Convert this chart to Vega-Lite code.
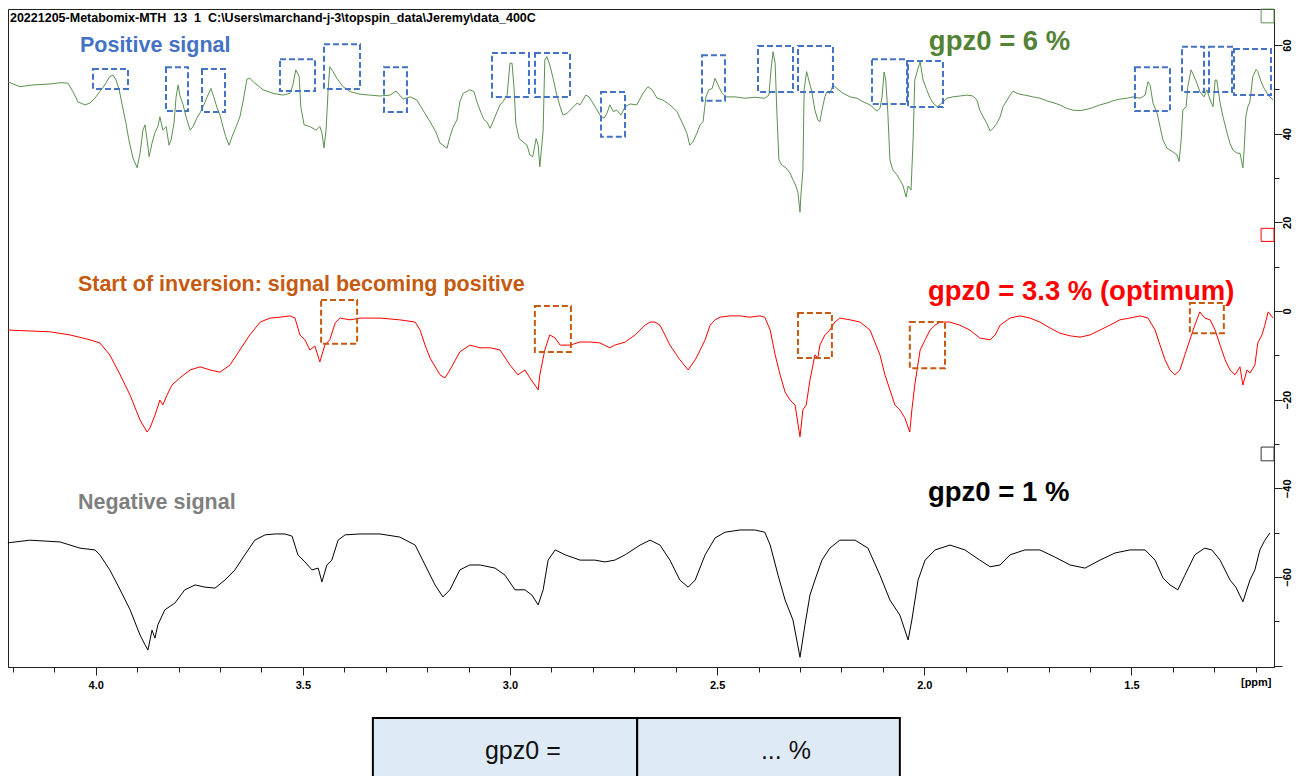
{
"$schema": "https://vega.github.io/schema/vega-lite/v6.json",
"width": 1266, "height": 658,
"autosize": {"type": "none"},
"padding": {"left": 8, "top": 9, "right": 34, "bottom": 109},
"background": "white",
"config": {"view": {"stroke": "#222", "strokeWidth": 1}, "axis": {"grid": false, "domainColor": "#222", "tickColor": "#222", "labelFont": "Liberation Sans", "labelFontWeight": "bold", "labelFontSize": 11, "labelColor": "#000", "title": null, "labelOverlap": false, "labelFlush": false, "labelBound": false}},
"resolve": {"scale": {"fill": "independent", "stroke": "independent"}},
"datasets": {
"spectra": [
{"trace":"g6","ppm":4.212,"rel":51.7},{"trace":"g6","ppm":4.183,"rel":50.6},{"trace":"g6","ppm":4.151,"rel":51.0},{"trace":"g6","ppm":4.110,"rel":51.2},{"trace":"g6","ppm":4.086,"rel":51.5},{"trace":"g6","ppm":4.067,"rel":51.4},{"trace":"g6","ppm":4.055,"rel":49.5},{"trace":"g6","ppm":4.043,"rel":47.2},{"trace":"g6","ppm":4.026,"rel":46.5},{"trace":"g6","ppm":4.014,"rel":46.9},{"trace":"g6","ppm":4.002,"rel":48.0},{"trace":"g6","ppm":3.990,"rel":49.5},{"trace":"g6","ppm":3.978,"rel":51.0},{"trace":"g6","ppm":3.966,"rel":52.9},{"trace":"g6","ppm":3.958,"rel":53.2},{"trace":"g6","ppm":3.951,"rel":52.1},{"trace":"g6","ppm":3.944,"rel":50.2},{"trace":"g6","ppm":3.937,"rel":46.9},{"trace":"g6","ppm":3.927,"rel":42.4},{"trace":"g6","ppm":3.920,"rel":38.6},{"trace":"g6","ppm":3.910,"rel":34.5},{"trace":"g6","ppm":3.900,"rel":32.3},{"trace":"g6","ppm":3.893,"rel":35.6},{"trace":"g6","ppm":3.886,"rel":40.8},{"trace":"g6","ppm":3.881,"rel":42.0},{"trace":"g6","ppm":3.876,"rel":38.6},{"trace":"g6","ppm":3.871,"rel":34.8},{"trace":"g6","ppm":3.864,"rel":37.9},{"trace":"g6","ppm":3.857,"rel":40.2},{"trace":"g6","ppm":3.850,"rel":41.6},{"trace":"g6","ppm":3.845,"rel":43.8},{"trace":"g6","ppm":3.838,"rel":40.8},{"trace":"g6","ppm":3.830,"rel":41.6},{"trace":"g6","ppm":3.823,"rel":37.4},{"trace":"g6","ppm":3.818,"rel":38.6},{"trace":"g6","ppm":3.811,"rel":42.4},{"trace":"g6","ppm":3.806,"rel":48.3},{"trace":"g6","ppm":3.801,"rel":51.0},{"trace":"g6","ppm":3.797,"rel":48.7},{"trace":"g6","ppm":3.789,"rel":46.5},{"trace":"g6","ppm":3.782,"rel":43.8},{"trace":"g6","ppm":3.772,"rel":40.8},{"trace":"g6","ppm":3.765,"rel":41.6},{"trace":"g6","ppm":3.756,"rel":43.5},{"trace":"g6","ppm":3.748,"rel":44.7},{"trace":"g6","ppm":3.739,"rel":46.5},{"trace":"g6","ppm":3.731,"rel":48.3},{"trace":"g6","ppm":3.722,"rel":50.2},{"trace":"g6","ppm":3.715,"rel":48.3},{"trace":"g6","ppm":3.707,"rel":45.8},{"trace":"g6","ppm":3.700,"rel":44.2},{"trace":"g6","ppm":3.693,"rel":41.6},{"trace":"g6","ppm":3.686,"rel":39.3},{"trace":"g6","ppm":3.678,"rel":37.4},{"trace":"g6","ppm":3.671,"rel":39.3},{"trace":"g6","ppm":3.661,"rel":41.6},{"trace":"g6","ppm":3.652,"rel":43.8},{"trace":"g6","ppm":3.645,"rel":46.9},{"trace":"g6","ppm":3.635,"rel":52.3},{"trace":"g6","ppm":3.628,"rel":52.5},{"trace":"g6","ppm":3.616,"rel":51.4},{"trace":"g6","ppm":3.596,"rel":49.9},{"trace":"g6","ppm":3.572,"rel":49.1},{"trace":"g6","ppm":3.548,"rel":48.7},{"trace":"g6","ppm":3.531,"rel":49.1},{"trace":"g6","ppm":3.524,"rel":51.0},{"trace":"g6","ppm":3.517,"rel":54.4},{"trace":"g6","ppm":3.509,"rel":52.9},{"trace":"g6","ppm":3.505,"rel":46.1},{"trace":"g6","ppm":3.497,"rel":42.0},{"trace":"g6","ppm":3.483,"rel":41.6},{"trace":"g6","ppm":3.468,"rel":40.8},{"trace":"g6","ppm":3.459,"rel":41.6},{"trace":"g6","ppm":3.454,"rel":40.2},{"trace":"g6","ppm":3.449,"rel":36.8},{"trace":"g6","ppm":3.444,"rel":40.8},{"trace":"g6","ppm":3.439,"rel":49.9},{"trace":"g6","ppm":3.435,"rel":55.1},{"trace":"g6","ppm":3.427,"rel":54.0},{"trace":"g6","ppm":3.418,"rel":52.5},{"trace":"g6","ppm":3.403,"rel":50.6},{"trace":"g6","ppm":3.386,"rel":49.5},{"trace":"g6","ppm":3.362,"rel":48.9},{"trace":"g6","ppm":3.338,"rel":48.7},{"trace":"g6","ppm":3.314,"rel":48.5},{"trace":"g6","ppm":3.290,"rel":48.7},{"trace":"g6","ppm":3.275,"rel":49.6},{"trace":"g6","ppm":3.258,"rel":47.8},{"trace":"g6","ppm":3.241,"rel":48.3},{"trace":"g6","ppm":3.225,"rel":47.6},{"trace":"g6","ppm":3.210,"rel":45.3},{"trace":"g6","ppm":3.193,"rel":42.7},{"trace":"g6","ppm":3.179,"rel":40.4},{"trace":"g6","ppm":3.169,"rel":37.9},{"trace":"g6","ppm":3.162,"rel":37.4},{"trace":"g6","ppm":3.152,"rel":36.7},{"trace":"g6","ppm":3.145,"rel":39.3},{"trace":"g6","ppm":3.138,"rel":41.3},{"trace":"g6","ppm":3.128,"rel":43.1},{"trace":"g6","ppm":3.121,"rel":47.2},{"trace":"g6","ppm":3.113,"rel":49.1},{"trace":"g6","ppm":3.104,"rel":49.5},{"trace":"g6","ppm":3.097,"rel":49.9},{"trace":"g6","ppm":3.087,"rel":49.5},{"trace":"g6","ppm":3.080,"rel":47.2},{"trace":"g6","ppm":3.070,"rel":44.7},{"trace":"g6","ppm":3.063,"rel":43.2},{"trace":"g6","ppm":3.056,"rel":42.7},{"trace":"g6","ppm":3.048,"rel":41.2},{"trace":"g6","ppm":3.041,"rel":42.7},{"trace":"g6","ppm":3.031,"rel":45.0},{"trace":"g6","ppm":3.024,"rel":46.5},{"trace":"g6","ppm":3.017,"rel":47.2},{"trace":"g6","ppm":3.007,"rel":48.7},{"trace":"g6","ppm":3.000,"rel":55.9},{"trace":"g6","ppm":2.995,"rel":55.9},{"trace":"g6","ppm":2.990,"rel":49.9},{"trace":"g6","ppm":2.986,"rel":42.4},{"trace":"g6","ppm":2.978,"rel":38.9},{"trace":"g6","ppm":2.969,"rel":38.2},{"trace":"g6","ppm":2.959,"rel":37.4},{"trace":"g6","ppm":2.952,"rel":35.2},{"trace":"g6","ppm":2.945,"rel":34.8},{"trace":"g6","ppm":2.937,"rel":38.9},{"trace":"g6","ppm":2.932,"rel":37.4},{"trace":"g6","ppm":2.928,"rel":32.5},{"trace":"g6","ppm":2.920,"rel":40.8},{"trace":"g6","ppm":2.916,"rel":56.6},{"trace":"g6","ppm":2.911,"rel":57.4},{"trace":"g6","ppm":2.904,"rel":55.5},{"trace":"g6","ppm":2.896,"rel":52.5},{"trace":"g6","ppm":2.887,"rel":48.7},{"trace":"g6","ppm":2.879,"rel":46.1},{"trace":"g6","ppm":2.872,"rel":44.2},{"trace":"g6","ppm":2.862,"rel":44.6},{"trace":"g6","ppm":2.855,"rel":45.3},{"trace":"g6","ppm":2.846,"rel":46.1},{"trace":"g6","ppm":2.838,"rel":46.9},{"trace":"g6","ppm":2.831,"rel":46.5},{"trace":"g6","ppm":2.824,"rel":47.6},{"trace":"g6","ppm":2.817,"rel":48.7},{"trace":"g6","ppm":2.809,"rel":48.3},{"trace":"g6","ppm":2.802,"rel":47.2},{"trace":"g6","ppm":2.792,"rel":45.7},{"trace":"g6","ppm":2.783,"rel":44.2},{"trace":"g6","ppm":2.773,"rel":43.5},{"trace":"g6","ppm":2.766,"rel":44.6},{"trace":"g6","ppm":2.759,"rel":46.5},{"trace":"g6","ppm":2.751,"rel":45.0},{"trace":"g6","ppm":2.742,"rel":45.3},{"trace":"g6","ppm":2.732,"rel":44.2},{"trace":"g6","ppm":2.722,"rel":46.1},{"trace":"g6","ppm":2.710,"rel":46.7},{"trace":"g6","ppm":2.694,"rel":46.5},{"trace":"g6","ppm":2.679,"rel":49.1},{"trace":"g6","ppm":2.667,"rel":50.6},{"trace":"g6","ppm":2.657,"rel":49.9},{"trace":"g6","ppm":2.645,"rel":48.0},{"trace":"g6","ppm":2.631,"rel":47.6},{"trace":"g6","ppm":2.614,"rel":46.5},{"trace":"g6","ppm":2.597,"rel":45.0},{"trace":"g6","ppm":2.582,"rel":42.0},{"trace":"g6","ppm":2.573,"rel":40.1},{"trace":"g6","ppm":2.566,"rel":37.4},{"trace":"g6","ppm":2.558,"rel":38.2},{"trace":"g6","ppm":2.549,"rel":40.1},{"trace":"g6","ppm":2.541,"rel":42.0},{"trace":"g6","ppm":2.534,"rel":42.7},{"trace":"g6","ppm":2.527,"rel":48.3},{"trace":"g6","ppm":2.520,"rel":49.9},{"trace":"g6","ppm":2.512,"rel":50.2},{"trace":"g6","ppm":2.505,"rel":52.5},{"trace":"g6","ppm":2.498,"rel":51.0},{"trace":"g6","ppm":2.488,"rel":49.1},{"trace":"g6","ppm":2.479,"rel":48.3},{"trace":"g6","ppm":2.457,"rel":48.3},{"trace":"g6","ppm":2.433,"rel":48.0},{"trace":"g6","ppm":2.409,"rel":48.2},{"trace":"g6","ppm":2.385,"rel":48.0},{"trace":"g6","ppm":2.375,"rel":48.7},{"trace":"g6","ppm":2.370,"rel":54.4},{"trace":"g6","ppm":2.365,"rel":58.5},{"trace":"g6","ppm":2.360,"rel":55.9},{"trace":"g6","ppm":2.356,"rel":45.3},{"trace":"g6","ppm":2.351,"rel":34.1},{"trace":"g6","ppm":2.344,"rel":32.9},{"trace":"g6","ppm":2.334,"rel":32.3},{"trace":"g6","ppm":2.324,"rel":31.1},{"trace":"g6","ppm":2.317,"rel":29.6},{"trace":"g6","ppm":2.310,"rel":28.2},{"trace":"g6","ppm":2.305,"rel":26.8},{"trace":"g6","ppm":2.300,"rel":22.3},{"trace":"g6","ppm":2.298,"rel":25.9},{"trace":"g6","ppm":2.293,"rel":31.8},{"trace":"g6","ppm":2.290,"rel":49.9},{"trace":"g6","ppm":2.284,"rel":54.0},{"trace":"g6","ppm":2.281,"rel":52.9},{"trace":"g6","ppm":2.271,"rel":49.2},{"trace":"g6","ppm":2.264,"rel":45.3},{"trace":"g6","ppm":2.257,"rel":43.1},{"trace":"g6","ppm":2.252,"rel":42.7},{"trace":"g6","ppm":2.247,"rel":45.3},{"trace":"g6","ppm":2.240,"rel":48.3},{"trace":"g6","ppm":2.235,"rel":49.5},{"trace":"g6","ppm":2.228,"rel":49.1},{"trace":"g6","ppm":2.220,"rel":51.0},{"trace":"g6","ppm":2.211,"rel":50.2},{"trace":"g6","ppm":2.196,"rel":49.1},{"trace":"g6","ppm":2.179,"rel":48.3},{"trace":"g6","ppm":2.163,"rel":48.0},{"trace":"g6","ppm":2.148,"rel":47.2},{"trace":"g6","ppm":2.131,"rel":46.5},{"trace":"g6","ppm":2.114,"rel":45.1},{"trace":"g6","ppm":2.107,"rel":45.7},{"trace":"g6","ppm":2.102,"rel":48.3},{"trace":"g6","ppm":2.097,"rel":53.9},{"trace":"g6","ppm":2.093,"rel":52.1},{"trace":"g6","ppm":2.088,"rel":44.7},{"trace":"g6","ppm":2.083,"rel":34.1},{"trace":"g6","ppm":2.076,"rel":31.8},{"trace":"g6","ppm":2.066,"rel":30.7},{"trace":"g6","ppm":2.059,"rel":29.6},{"trace":"g6","ppm":2.051,"rel":28.2},{"trace":"g6","ppm":2.044,"rel":25.7},{"trace":"g6","ppm":2.039,"rel":28.2},{"trace":"g6","ppm":2.032,"rel":27.3},{"trace":"g6","ppm":2.027,"rel":38.6},{"trace":"g6","ppm":2.023,"rel":52.1},{"trace":"g6","ppm":2.015,"rel":54.8},{"trace":"g6","ppm":2.010,"rel":56.2},{"trace":"g6","ppm":2.003,"rel":52.1},{"trace":"g6","ppm":1.994,"rel":49.9},{"trace":"g6","ppm":1.986,"rel":48.0},{"trace":"g6","ppm":1.979,"rel":46.9},{"trace":"g6","ppm":1.969,"rel":46.1},{"trace":"g6","ppm":1.962,"rel":46.5},{"trace":"g6","ppm":1.955,"rel":47.2},{"trace":"g6","ppm":1.945,"rel":48.0},{"trace":"g6","ppm":1.931,"rel":48.3},{"trace":"g6","ppm":1.914,"rel":48.5},{"trace":"g6","ppm":1.897,"rel":48.7},{"trace":"g6","ppm":1.883,"rel":48.5},{"trace":"g6","ppm":1.873,"rel":47.6},{"trace":"g6","ppm":1.866,"rel":45.3},{"trace":"g6","ppm":1.858,"rel":43.8},{"trace":"g6","ppm":1.849,"rel":42.3},{"trace":"g6","ppm":1.841,"rel":40.6},{"trace":"g6","ppm":1.834,"rel":41.2},{"trace":"g6","ppm":1.825,"rel":42.3},{"trace":"g6","ppm":1.817,"rel":43.8},{"trace":"g6","ppm":1.810,"rel":46.1},{"trace":"g6","ppm":1.800,"rel":47.6},{"trace":"g6","ppm":1.793,"rel":48.7},{"trace":"g6","ppm":1.786,"rel":49.6},{"trace":"g6","ppm":1.776,"rel":49.1},{"trace":"g6","ppm":1.769,"rel":48.9},{"trace":"g6","ppm":1.752,"rel":48.6},{"trace":"g6","ppm":1.738,"rel":48.3},{"trace":"g6","ppm":1.721,"rel":48.0},{"trace":"g6","ppm":1.704,"rel":47.4},{"trace":"g6","ppm":1.689,"rel":47.0},{"trace":"g6","ppm":1.673,"rel":46.5},{"trace":"g6","ppm":1.656,"rel":45.7},{"trace":"g6","ppm":1.641,"rel":45.3},{"trace":"g6","ppm":1.624,"rel":45.2},{"trace":"g6","ppm":1.607,"rel":45.5},{"trace":"g6","ppm":1.593,"rel":45.9},{"trace":"g6","ppm":1.576,"rel":46.5},{"trace":"g6","ppm":1.559,"rel":46.9},{"trace":"g6","ppm":1.545,"rel":47.4},{"trace":"g6","ppm":1.528,"rel":47.8},{"trace":"g6","ppm":1.511,"rel":48.0},{"trace":"g6","ppm":1.496,"rel":48.3},{"trace":"g6","ppm":1.479,"rel":48.0},{"trace":"g6","ppm":1.467,"rel":48.7},{"trace":"g6","ppm":1.460,"rel":51.7},{"trace":"g6","ppm":1.455,"rel":51.0},{"trace":"g6","ppm":1.448,"rel":46.9},{"trace":"g6","ppm":1.438,"rel":44.6},{"trace":"g6","ppm":1.431,"rel":41.6},{"trace":"g6","ppm":1.424,"rel":38.6},{"trace":"g6","ppm":1.414,"rel":36.7},{"trace":"g6","ppm":1.407,"rel":36.3},{"trace":"g6","ppm":1.400,"rel":35.9},{"trace":"g6","ppm":1.390,"rel":35.2},{"trace":"g6","ppm":1.385,"rel":33.7},{"trace":"g6","ppm":1.380,"rel":38.6},{"trace":"g6","ppm":1.376,"rel":45.3},{"trace":"g6","ppm":1.368,"rel":46.1},{"trace":"g6","ppm":1.364,"rel":50.6},{"trace":"g6","ppm":1.356,"rel":54.4},{"trace":"g6","ppm":1.352,"rel":53.6},{"trace":"g6","ppm":1.342,"rel":51.4},{"trace":"g6","ppm":1.335,"rel":49.5},{"trace":"g6","ppm":1.325,"rel":48.3},{"trace":"g6","ppm":1.318,"rel":49.9},{"trace":"g6","ppm":1.310,"rel":47.6},{"trace":"g6","ppm":1.303,"rel":46.1},{"trace":"g6","ppm":1.298,"rel":52.1},{"trace":"g6","ppm":1.294,"rel":52.1},{"trace":"g6","ppm":1.286,"rel":46.9},{"trace":"g6","ppm":1.279,"rel":43.8},{"trace":"g6","ppm":1.269,"rel":40.1},{"trace":"g6","ppm":1.262,"rel":37.8},{"trace":"g6","ppm":1.255,"rel":36.3},{"trace":"g6","ppm":1.245,"rel":35.6},{"trace":"g6","ppm":1.238,"rel":35.6},{"trace":"g6","ppm":1.231,"rel":32.3},{"trace":"g6","ppm":1.228,"rel":36.3},{"trace":"g6","ppm":1.224,"rel":43.8},{"trace":"g6","ppm":1.219,"rel":46.1},{"trace":"g6","ppm":1.214,"rel":47.2},{"trace":"g6","ppm":1.207,"rel":52.9},{"trace":"g6","ppm":1.199,"rel":54.5},{"trace":"g6","ppm":1.195,"rel":54.0},{"trace":"g6","ppm":1.187,"rel":51.7},{"trace":"g6","ppm":1.178,"rel":49.9},{"trace":"g6","ppm":1.170,"rel":48.7},{"trace":"g6","ppm":1.158,"rel":47.6},
{"trace":"g33","ppm":4.212,"rel":-4.3},{"trace":"g33","ppm":4.110,"rel":-4.7},{"trace":"g33","ppm":4.062,"rel":-5.4},{"trace":"g33","ppm":4.014,"rel":-6.5},{"trace":"g33","ppm":3.990,"rel":-7.2},{"trace":"g33","ppm":3.966,"rel":-9.9},{"trace":"g33","ppm":3.941,"rel":-14.4},{"trace":"g33","ppm":3.917,"rel":-19.0},{"trace":"g33","ppm":3.893,"rel":-24.6},{"trace":"g33","ppm":3.876,"rel":-27.3},{"trace":"g33","ppm":3.869,"rel":-26.4},{"trace":"g33","ppm":3.857,"rel":-23.5},{"trace":"g33","ppm":3.845,"rel":-20.1},{"trace":"g33","ppm":3.838,"rel":-21.2},{"trace":"g33","ppm":3.828,"rel":-19.0},{"trace":"g33","ppm":3.816,"rel":-16.7},{"trace":"g33","ppm":3.797,"rel":-15.1},{"trace":"g33","ppm":3.772,"rel":-13.3},{"trace":"g33","ppm":3.748,"rel":-12.6},{"trace":"g33","ppm":3.724,"rel":-13.3},{"trace":"g33","ppm":3.700,"rel":-13.8},{"trace":"g33","ppm":3.676,"rel":-12.2},{"trace":"g33","ppm":3.652,"rel":-8.8},{"trace":"g33","ppm":3.628,"rel":-5.4},{"trace":"g33","ppm":3.603,"rel":-2.5},{"trace":"g33","ppm":3.579,"rel":-1.6},{"trace":"g33","ppm":3.555,"rel":-1.4},{"trace":"g33","ppm":3.531,"rel":-1.1},{"trace":"g33","ppm":3.519,"rel":-1.6},{"trace":"g33","ppm":3.507,"rel":-5.4},{"trace":"g33","ppm":3.495,"rel":-6.5},{"trace":"g33","ppm":3.483,"rel":-8.8},{"trace":"g33","ppm":3.471,"rel":-7.9},{"trace":"g33","ppm":3.459,"rel":-11.5},{"trace":"g33","ppm":3.447,"rel":-7.7},{"trace":"g33","ppm":3.435,"rel":-6.5},{"trace":"g33","ppm":3.422,"rel":-2.7},{"trace":"g33","ppm":3.410,"rel":-1.6},{"trace":"g33","ppm":3.386,"rel":-2.0},{"trace":"g33","ppm":3.362,"rel":-1.6},{"trace":"g33","ppm":3.314,"rel":-1.6},{"trace":"g33","ppm":3.266,"rel":-2.0},{"trace":"g33","ppm":3.229,"rel":-2.5},{"trace":"g33","ppm":3.217,"rel":-4.3},{"trace":"g33","ppm":3.205,"rel":-7.7},{"trace":"g33","ppm":3.193,"rel":-10.6},{"trace":"g33","ppm":3.169,"rel":-14.4},{"trace":"g33","ppm":3.157,"rel":-15.1},{"trace":"g33","ppm":3.145,"rel":-13.3},{"trace":"g33","ppm":3.121,"rel":-9.2},{"trace":"g33","ppm":3.097,"rel":-7.7},{"trace":"g33","ppm":3.072,"rel":-8.3},{"trace":"g33","ppm":3.048,"rel":-8.3},{"trace":"g33","ppm":3.024,"rel":-8.8},{"trace":"g33","ppm":3.000,"rel":-12.2},{"trace":"g33","ppm":2.981,"rel":-14.4},{"trace":"g33","ppm":2.964,"rel":-13.3},{"trace":"g33","ppm":2.952,"rel":-15.1},{"trace":"g33","ppm":2.940,"rel":-16.7},{"trace":"g33","ppm":2.932,"rel":-17.8},{"trace":"g33","ppm":2.928,"rel":-14.4},{"trace":"g33","ppm":2.916,"rel":-8.8},{"trace":"g33","ppm":2.904,"rel":-5.4},{"trace":"g33","ppm":2.891,"rel":-6.1},{"trace":"g33","ppm":2.879,"rel":-7.7},{"trace":"g33","ppm":2.855,"rel":-7.7},{"trace":"g33","ppm":2.831,"rel":-7.0},{"trace":"g33","ppm":2.807,"rel":-7.0},{"trace":"g33","ppm":2.783,"rel":-7.2},{"trace":"g33","ppm":2.759,"rel":-8.3},{"trace":"g33","ppm":2.747,"rel":-7.7},{"trace":"g33","ppm":2.722,"rel":-7.0},{"trace":"g33","ppm":2.698,"rel":-5.4},{"trace":"g33","ppm":2.674,"rel":-3.2},{"trace":"g33","ppm":2.662,"rel":-2.5},{"trace":"g33","ppm":2.650,"rel":-2.5},{"trace":"g33","ppm":2.638,"rel":-3.2},{"trace":"g33","ppm":2.626,"rel":-5.4},{"trace":"g33","ppm":2.614,"rel":-7.7},{"trace":"g33","ppm":2.590,"rel":-11.0},{"trace":"g33","ppm":2.570,"rel":-13.3},{"trace":"g33","ppm":2.553,"rel":-11.0},{"trace":"g33","ppm":2.541,"rel":-8.8},{"trace":"g33","ppm":2.529,"rel":-6.5},{"trace":"g33","ppm":2.517,"rel":-3.2},{"trace":"g33","ppm":2.505,"rel":-2.0},{"trace":"g33","ppm":2.493,"rel":-1.4},{"trace":"g33","ppm":2.469,"rel":-1.1},{"trace":"g33","ppm":2.445,"rel":-1.1},{"trace":"g33","ppm":2.421,"rel":-1.4},{"trace":"g33","ppm":2.397,"rel":-1.1},{"trace":"g33","ppm":2.385,"rel":-1.4},{"trace":"g33","ppm":2.372,"rel":-4.3},{"trace":"g33","ppm":2.360,"rel":-9.9},{"trace":"g33","ppm":2.348,"rel":-14.4},{"trace":"g33","ppm":2.336,"rel":-18.3},{"trace":"g33","ppm":2.324,"rel":-20.1},{"trace":"g33","ppm":2.312,"rel":-21.2},{"trace":"g33","ppm":2.300,"rel":-28.4},{"trace":"g33","ppm":2.293,"rel":-22.3},{"trace":"g33","ppm":2.285,"rel":-21.2},{"trace":"g33","ppm":2.276,"rel":-15.6},{"trace":"g33","ppm":2.271,"rel":-13.3},{"trace":"g33","ppm":2.264,"rel":-9.9},{"trace":"g33","ppm":2.257,"rel":-10.6},{"trace":"g33","ppm":2.252,"rel":-7.7},{"trace":"g33","ppm":2.240,"rel":-5.4},{"trace":"g33","ppm":2.228,"rel":-4.3},{"trace":"g33","ppm":2.216,"rel":-2.5},{"trace":"g33","ppm":2.204,"rel":-1.6},{"trace":"g33","ppm":2.179,"rel":-2.0},{"trace":"g33","ppm":2.155,"rel":-2.5},{"trace":"g33","ppm":2.131,"rel":-4.3},{"trace":"g33","ppm":2.107,"rel":-9.9},{"trace":"g33","ppm":2.095,"rel":-14.4},{"trace":"g33","ppm":2.083,"rel":-17.8},{"trace":"g33","ppm":2.071,"rel":-21.2},{"trace":"g33","ppm":2.059,"rel":-22.3},{"trace":"g33","ppm":2.047,"rel":-24.1},{"trace":"g33","ppm":2.035,"rel":-27.3},{"trace":"g33","ppm":2.030,"rel":-22.3},{"trace":"g33","ppm":2.023,"rel":-16.7},{"trace":"g33","ppm":2.010,"rel":-8.8},{"trace":"g33","ppm":1.998,"rel":-6.5},{"trace":"g33","ppm":1.986,"rel":-4.3},{"trace":"g33","ppm":1.974,"rel":-3.2},{"trace":"g33","ppm":1.962,"rel":-2.5},{"trace":"g33","ppm":1.938,"rel":-2.5},{"trace":"g33","ppm":1.914,"rel":-3.2},{"trace":"g33","ppm":1.890,"rel":-4.3},{"trace":"g33","ppm":1.866,"rel":-6.1},{"trace":"g33","ppm":1.841,"rel":-6.5},{"trace":"g33","ppm":1.829,"rel":-5.4},{"trace":"g33","ppm":1.817,"rel":-3.2},{"trace":"g33","ppm":1.793,"rel":-1.6},{"trace":"g33","ppm":1.769,"rel":-1.1},{"trace":"g33","ppm":1.745,"rel":-1.6},{"trace":"g33","ppm":1.721,"rel":-2.5},{"trace":"g33","ppm":1.697,"rel":-3.8},{"trace":"g33","ppm":1.673,"rel":-5.0},{"trace":"g33","ppm":1.648,"rel":-5.6},{"trace":"g33","ppm":1.624,"rel":-5.9},{"trace":"g33","ppm":1.600,"rel":-5.4},{"trace":"g33","ppm":1.576,"rel":-4.3},{"trace":"g33","ppm":1.552,"rel":-3.2},{"trace":"g33","ppm":1.528,"rel":-2.0},{"trace":"g33","ppm":1.504,"rel":-1.6},{"trace":"g33","ppm":1.479,"rel":-1.1},{"trace":"g33","ppm":1.460,"rel":-1.6},{"trace":"g33","ppm":1.443,"rel":-4.3},{"trace":"g33","ppm":1.431,"rel":-7.7},{"trace":"g33","ppm":1.419,"rel":-11.0},{"trace":"g33","ppm":1.407,"rel":-13.3},{"trace":"g33","ppm":1.395,"rel":-14.4},{"trace":"g33","ppm":1.383,"rel":-13.3},{"trace":"g33","ppm":1.371,"rel":-9.9},{"trace":"g33","ppm":1.359,"rel":-6.5},{"trace":"g33","ppm":1.347,"rel":-3.2},{"trace":"g33","ppm":1.335,"rel":-0.2},{"trace":"g33","ppm":1.323,"rel":-1.6},{"trace":"g33","ppm":1.310,"rel":-2.0},{"trace":"g33","ppm":1.298,"rel":-4.3},{"trace":"g33","ppm":1.286,"rel":-7.7},{"trace":"g33","ppm":1.274,"rel":-11.0},{"trace":"g33","ppm":1.262,"rel":-13.3},{"trace":"g33","ppm":1.250,"rel":-14.4},{"trace":"g33","ppm":1.238,"rel":-12.6},{"trace":"g33","ppm":1.231,"rel":-16.7},{"trace":"g33","ppm":1.221,"rel":-13.3},{"trace":"g33","ppm":1.214,"rel":-14.0},{"trace":"g33","ppm":1.202,"rel":-12.2},{"trace":"g33","ppm":1.195,"rel":-7.2},{"trace":"g33","ppm":1.185,"rel":-5.4},{"trace":"g33","ppm":1.178,"rel":-3.2},{"trace":"g33","ppm":1.170,"rel":-0.2},{"trace":"g33","ppm":1.158,"rel":-1.6},
{"trace":"g1","ppm":4.212,"rel":-52.3},{"trace":"g1","ppm":4.159,"rel":-51.7},{"trace":"g1","ppm":4.086,"rel":-52.1},{"trace":"g1","ppm":4.038,"rel":-53.5},{"trace":"g1","ppm":4.002,"rel":-53.9},{"trace":"g1","ppm":3.990,"rel":-55.0},{"trace":"g1","ppm":3.966,"rel":-58.4},{"trace":"g1","ppm":3.941,"rel":-62.9},{"trace":"g1","ppm":3.917,"rel":-67.4},{"trace":"g1","ppm":3.893,"rel":-73.1},{"trace":"g1","ppm":3.881,"rel":-75.3},{"trace":"g1","ppm":3.874,"rel":-76.5},{"trace":"g1","ppm":3.864,"rel":-72.0},{"trace":"g1","ppm":3.857,"rel":-73.8},{"trace":"g1","ppm":3.850,"rel":-70.8},{"trace":"g1","ppm":3.833,"rel":-67.4},{"trace":"g1","ppm":3.809,"rel":-65.9},{"trace":"g1","ppm":3.785,"rel":-62.9},{"trace":"g1","ppm":3.760,"rel":-61.8},{"trace":"g1","ppm":3.736,"rel":-62.3},{"trace":"g1","ppm":3.712,"rel":-62.5},{"trace":"g1","ppm":3.688,"rel":-60.7},{"trace":"g1","ppm":3.664,"rel":-58.4},{"trace":"g1","ppm":3.640,"rel":-55.0},{"trace":"g1","ppm":3.616,"rel":-51.7},{"trace":"g1","ppm":3.591,"rel":-50.5},{"trace":"g1","ppm":3.567,"rel":-50.3},{"trace":"g1","ppm":3.543,"rel":-50.3},{"trace":"g1","ppm":3.526,"rel":-50.8},{"trace":"g1","ppm":3.512,"rel":-55.0},{"trace":"g1","ppm":3.495,"rel":-56.6},{"trace":"g1","ppm":3.478,"rel":-58.4},{"trace":"g1","ppm":3.463,"rel":-58.0},{"trace":"g1","ppm":3.454,"rel":-61.1},{"trace":"g1","ppm":3.442,"rel":-57.3},{"trace":"g1","ppm":3.430,"rel":-56.2},{"trace":"g1","ppm":3.415,"rel":-51.7},{"trace":"g1","ppm":3.398,"rel":-50.5},{"trace":"g1","ppm":3.362,"rel":-50.3},{"trace":"g1","ppm":3.314,"rel":-50.3},{"trace":"g1","ppm":3.266,"rel":-51.0},{"trace":"g1","ppm":3.229,"rel":-52.8},{"trace":"g1","ppm":3.205,"rel":-57.3},{"trace":"g1","ppm":3.181,"rel":-61.8},{"trace":"g1","ppm":3.162,"rel":-64.5},{"trace":"g1","ppm":3.145,"rel":-62.9},{"trace":"g1","ppm":3.121,"rel":-58.4},{"trace":"g1","ppm":3.097,"rel":-57.3},{"trace":"g1","ppm":3.072,"rel":-57.3},{"trace":"g1","ppm":3.036,"rel":-58.0},{"trace":"g1","ppm":3.012,"rel":-59.6},{"trace":"g1","ppm":2.988,"rel":-62.9},{"trace":"g1","ppm":2.964,"rel":-62.9},{"trace":"g1","ppm":2.947,"rel":-64.1},{"trace":"g1","ppm":2.932,"rel":-66.3},{"trace":"g1","ppm":2.920,"rel":-62.9},{"trace":"g1","ppm":2.908,"rel":-56.2},{"trace":"g1","ppm":2.891,"rel":-53.9},{"trace":"g1","ppm":2.867,"rel":-55.0},{"trace":"g1","ppm":2.831,"rel":-56.2},{"trace":"g1","ppm":2.795,"rel":-56.2},{"trace":"g1","ppm":2.771,"rel":-56.6},{"trace":"g1","ppm":2.747,"rel":-56.2},{"trace":"g1","ppm":2.722,"rel":-55.0},{"trace":"g1","ppm":2.686,"rel":-52.8},{"trace":"g1","ppm":2.662,"rel":-51.7},{"trace":"g1","ppm":2.638,"rel":-52.8},{"trace":"g1","ppm":2.614,"rel":-56.2},{"trace":"g1","ppm":2.590,"rel":-60.7},{"trace":"g1","ppm":2.570,"rel":-62.3},{"trace":"g1","ppm":2.553,"rel":-60.7},{"trace":"g1","ppm":2.529,"rel":-55.0},{"trace":"g1","ppm":2.505,"rel":-51.2},{"trace":"g1","ppm":2.481,"rel":-49.9},{"trace":"g1","ppm":2.445,"rel":-49.4},{"trace":"g1","ppm":2.409,"rel":-49.4},{"trace":"g1","ppm":2.385,"rel":-49.9},{"trace":"g1","ppm":2.372,"rel":-52.8},{"trace":"g1","ppm":2.353,"rel":-59.6},{"trace":"g1","ppm":2.336,"rel":-65.2},{"trace":"g1","ppm":2.317,"rel":-69.7},{"trace":"g1","ppm":2.300,"rel":-78.1},{"trace":"g1","ppm":2.288,"rel":-70.8},{"trace":"g1","ppm":2.276,"rel":-64.1},{"trace":"g1","ppm":2.264,"rel":-60.7},{"trace":"g1","ppm":2.247,"rel":-56.2},{"trace":"g1","ppm":2.228,"rel":-53.5},{"trace":"g1","ppm":2.204,"rel":-51.7},{"trace":"g1","ppm":2.167,"rel":-51.7},{"trace":"g1","ppm":2.136,"rel":-53.5},{"trace":"g1","ppm":2.107,"rel":-59.6},{"trace":"g1","ppm":2.083,"rel":-65.2},{"trace":"g1","ppm":2.059,"rel":-68.6},{"trace":"g1","ppm":2.039,"rel":-74.2},{"trace":"g1","ppm":2.030,"rel":-69.7},{"trace":"g1","ppm":2.015,"rel":-60.7},{"trace":"g1","ppm":1.998,"rel":-56.2},{"trace":"g1","ppm":1.974,"rel":-53.9},{"trace":"g1","ppm":1.938,"rel":-52.8},{"trace":"g1","ppm":1.902,"rel":-53.9},{"trace":"g1","ppm":1.866,"rel":-56.2},{"trace":"g1","ppm":1.841,"rel":-57.7},{"trace":"g1","ppm":1.817,"rel":-57.3},{"trace":"g1","ppm":1.793,"rel":-55.0},{"trace":"g1","ppm":1.757,"rel":-53.9},{"trace":"g1","ppm":1.721,"rel":-53.9},{"trace":"g1","ppm":1.685,"rel":-55.5},{"trace":"g1","ppm":1.648,"rel":-57.3},{"trace":"g1","ppm":1.612,"rel":-58.0},{"trace":"g1","ppm":1.576,"rel":-56.2},{"trace":"g1","ppm":1.540,"rel":-54.6},{"trace":"g1","ppm":1.504,"rel":-53.9},{"trace":"g1","ppm":1.467,"rel":-53.9},{"trace":"g1","ppm":1.443,"rel":-56.2},{"trace":"g1","ppm":1.424,"rel":-60.2},{"trace":"g1","ppm":1.407,"rel":-61.8},{"trace":"g1","ppm":1.388,"rel":-62.9},{"trace":"g1","ppm":1.371,"rel":-59.6},{"trace":"g1","ppm":1.347,"rel":-55.0},{"trace":"g1","ppm":1.323,"rel":-53.5},{"trace":"g1","ppm":1.306,"rel":-53.9},{"trace":"g1","ppm":1.286,"rel":-56.2},{"trace":"g1","ppm":1.262,"rel":-60.7},{"trace":"g1","ppm":1.248,"rel":-62.3},{"trace":"g1","ppm":1.231,"rel":-65.6},{"trace":"g1","ppm":1.214,"rel":-60.7},{"trace":"g1","ppm":1.202,"rel":-58.4},{"trace":"g1","ppm":1.190,"rel":-53.9},{"trace":"g1","ppm":1.178,"rel":-51.7},{"trace":"g1","ppm":1.166,"rel":-50.1}
],
"boxes": [
{"kind":"positive","ppm":4.0065,"ppm2":3.922,"rel":54.6,"rel2":50.1},
{"kind":"positive","ppm":3.8303,"ppm2":3.7772,"rel":55.0,"rel2":45.1},
{"kind":"positive","ppm":3.7434,"ppm2":3.6879,"rel":54.6,"rel2":44.9},
{"kind":"positive","ppm":3.5552,"ppm2":3.4707,"rel":56.8,"rel2":49.6},
{"kind":"positive","ppm":3.449,"ppm2":3.362,"rel":60.2,"rel2":50.1},
{"kind":"positive","ppm":3.3041,"ppm2":3.2486,"rel":55.0,"rel2":44.9},
{"kind":"positive","ppm":3.0435,"ppm2":2.9542,"rel":58.2,"rel2":48.3},
{"kind":"positive","ppm":2.9397,"ppm2":2.8552,"rel":58.2,"rel2":48.3},
{"kind":"positive","ppm":2.7804,"ppm2":2.7224,"rel":49.4,"rel2":39.3},
{"kind":"positive","ppm":2.5366,"ppm2":2.4811,"rel":57.7,"rel2":47.4},
{"kind":"positive","ppm":2.4014,"ppm2":2.3169,"rel":59.8,"rel2":49.4},
{"kind":"positive","ppm":2.3048,"ppm2":2.2204,"rel":59.8,"rel2":49.4},
{"kind":"positive","ppm":2.1263,"ppm2":2.0418,"rel":56.8,"rel2":46.7},
{"kind":"positive","ppm":2.0394,"ppm2":1.9549,"rel":56.4,"rel2":46.0},
{"kind":"positive","ppm":1.4915,"ppm2":1.407,"rel":55.0,"rel2":45.1},
{"kind":"positive","ppm":1.378,"ppm2":1.3249,"rel":59.6,"rel2":49.4},
{"kind":"positive","ppm":1.3128,"ppm2":1.2573,"rel":59.6,"rel2":49.4},
{"kind":"positive","ppm":1.2525,"ppm2":1.1632,"rel":59.1,"rel2":48.7},
{"kind":"inversion","ppm":3.456,"ppm2":3.369,"rel":2.5,"rel2":-7.4},
{"kind":"inversion","ppm":2.940,"ppm2":2.853,"rel":1.1,"rel2":-9.25},
{"kind":"inversion","ppm":2.305,"ppm2":2.223,"rel":-0.45,"rel2":-10.6},
{"kind":"inversion","ppm":2.035,"ppm2":1.950,"rel":-2.5,"rel2":-12.9},
{"kind":"inversion","ppm":1.359,"ppm2":1.277,"rel":1.8,"rel2":-5.0}
],
"markers": [
{"trace":"g6","ppm":1.187,"ppm2":1.1559,"rel":68.1,"rel2":65.0},
{"trace":"g33","ppm":1.187,"ppm2":1.1559,"rel":18.65,"rel2":15.7},
{"trace":"g1","ppm":1.187,"ppm2":1.1559,"rel":-30.7,"rel2":-33.8}
],
"notes": [
{"role":"positive","text":"Positive signal","ppm":4.038,"rel":59.8},
{"role":"inversion","text":"Start of inversion: signal becoming positive","ppm":4.043,"rel":5.9},
{"role":"negative","text":"Negative signal","ppm":4.043,"rel":-43.3}
],
"gpz": [
{"trace":"g6","text":"gpz0 = 6 %","ppm":1.989,"rel":60.7},
{"trace":"g33","text":"gpz0 = 3.3 % (optimum)","ppm":1.991,"rel":4.3},
{"trace":"g1","text":"gpz0 = 1 %","ppm":1.991,"rel":-41.1}
],
"table": [
{"cell":"label","text":"gpz0 =","ppm":3.331,"ppm2":2.693,"rel":-91.8,"rel2":-106,"mid":2.969,"relmid":-99.2},
{"cell":"value","text":"... %","ppm":2.693,"ppm2":2.059,"rel":-91.8,"rel2":-106,"mid":2.334,"relmid":-99.2}
]
},
"layer": [
{
"data": {"name": "spectra"},
"mark": {"type": "line", "strokeWidth": 1, "interpolate": "linear"},
"encoding": {
"x": {"field": "ppm", "type": "quantitative", "scale": {"domain": [1.1559, 4.2117], "reverse": true, "nice": false, "zero": false},
"axis": {"orient": "bottom", "values": [4.2,4.1,4.0,3.9,3.8,3.7,3.6,3.5,3.4,3.3,3.2,3.1,3.0,2.9,2.8,2.7,2.6,2.5,2.4,2.3,2.2,2.1,2.0,1.9,1.8,1.7,1.6,1.5,1.4,1.3,1.2],
"labelExpr": "datum.value == 1.2 ? '[ppm]' : (abs(datum.value*2 - round(datum.value*2)) < 0.001 ? format(datum.value, '.1f') : '')",
"tickSize": {"condition": {"test": "abs(datum.value*2 - round(datum.value*2)) < 0.001", "value": 8}, "value": 5},
"labelPadding": 4}},
"y": {"field": "rel", "type": "quantitative", "scale": {"domain": [-80.31, 68.125], "nice": false, "zero": false},
"axis": {"orient": "right", "values": [-80,-75,-70,-65,-60,-55,-50,-45,-40,-35,-30,-25,-20,-15,-10,-5,0,5,10,15,20,25,30,35,40,45,50,55,60,65],
"labelExpr": "datum.value == 65 ? '[rel]' : (datum.value % 20 == 0 && datum.value != -80 ? format(datum.value, 'd') : '')",
"tickSize": {"condition": {"test": "datum.value % 20 == 0", "value": 8}, "value": 5},
"labelAngle": 270, "labelAlign": "center", "labelBaseline": "middle", "labelPadding": 5}},
"color": {"field": "trace", "type": "nominal", "scale": {"domain": ["g6","g33","g1"], "range": ["#5a9150","#ff0000","#000000"]}, "legend": null},
"detail": {"field": "trace"}
}
},
{
"data": {"name": "boxes"},
"mark": {"type": "rect", "fill": null, "fillOpacity": 0, "strokeWidth": 2, "strokeDash": [6, 3]},
"encoding": {
"x": {"field": "ppm", "type": "quantitative"}, "x2": {"field": "ppm2"},
"y": {"field": "rel", "type": "quantitative"}, "y2": {"field": "rel2"},
"stroke": {"field": "kind", "type": "nominal", "scale": {"domain": ["positive","inversion"], "range": ["#4472c4","#c55a11"]}, "legend": null}
}
},
{
"data": {"name": "markers"},
"mark": {"type": "rect", "fill": null, "fillOpacity": 0, "strokeWidth": 1},
"encoding": {
"x": {"field": "ppm", "type": "quantitative"}, "x2": {"field": "ppm2"},
"y": {"field": "rel", "type": "quantitative"}, "y2": {"field": "rel2"},
"stroke": {"field": "trace", "type": "nominal", "scale": {"domain": ["g6","g33","g1"], "range": ["#5a9150","#ff0000","#333333"]}, "legend": null}
}
},
{
"data": {"values": [{"text": "20221205-Metabomix-MTH\u00a0\u00a013\u00a0\u00a01\u00a0\u00a0C:\\Users\\marchand-j-3\\topspin_data\\Jeremy\\data_400C", "ppm": 4.207, "rel": 66.1}]},
"mark": {"type": "text", "align": "left", "baseline": "middle", "font": "Liberation Sans", "fontWeight": "bold", "fontSize": 12.5, "color": "#000"},
"encoding": {"x": {"field": "ppm", "type": "quantitative"}, "y": {"field": "rel", "type": "quantitative"}, "text": {"field": "text"}}
},
{
"data": {"name": "notes"},
"mark": {"type": "text", "align": "left", "baseline": "middle", "font": "Liberation Sans", "fontWeight": "bold", "fontSize": 21.5},
"encoding": {"x": {"field": "ppm", "type": "quantitative"}, "y": {"field": "rel", "type": "quantitative"}, "text": {"field": "text"},
"fill": {"field": "role", "type": "nominal", "scale": {"domain": ["positive","inversion","negative"], "range": ["#4472c4","#c55a11","#7f7f7f"]}, "legend": null}}
},
{
"data": {"name": "gpz"},
"mark": {"type": "text", "align": "left", "baseline": "middle", "font": "Liberation Sans", "fontWeight": "bold", "fontSize": 27.5},
"encoding": {"x": {"field": "ppm", "type": "quantitative"}, "y": {"field": "rel", "type": "quantitative"}, "text": {"field": "text"},
"fill": {"field": "trace", "type": "nominal", "scale": {"domain": ["g6","g33","g1"], "range": ["#548235","#ff0000","#000000"]}, "legend": null}}
},
{
"data": {"name": "table"},
"mark": {"type": "rect", "fill": "#deebf7", "stroke": "#000", "strokeWidth": 2},
"encoding": {"x": {"field": "ppm", "type": "quantitative"}, "x2": {"field": "ppm2"}, "y": {"field": "rel", "type": "quantitative"}, "y2": {"field": "rel2"}}
},
{
"data": {"name": "table"},
"mark": {"type": "text", "align": "center", "baseline": "middle", "font": "Liberation Sans", "fontSize": 25, "color": "#111"},
"encoding": {"x": {"field": "mid", "type": "quantitative"}, "y": {"field": "relmid", "type": "quantitative"}, "text": {"field": "text"}}
}
]
}
